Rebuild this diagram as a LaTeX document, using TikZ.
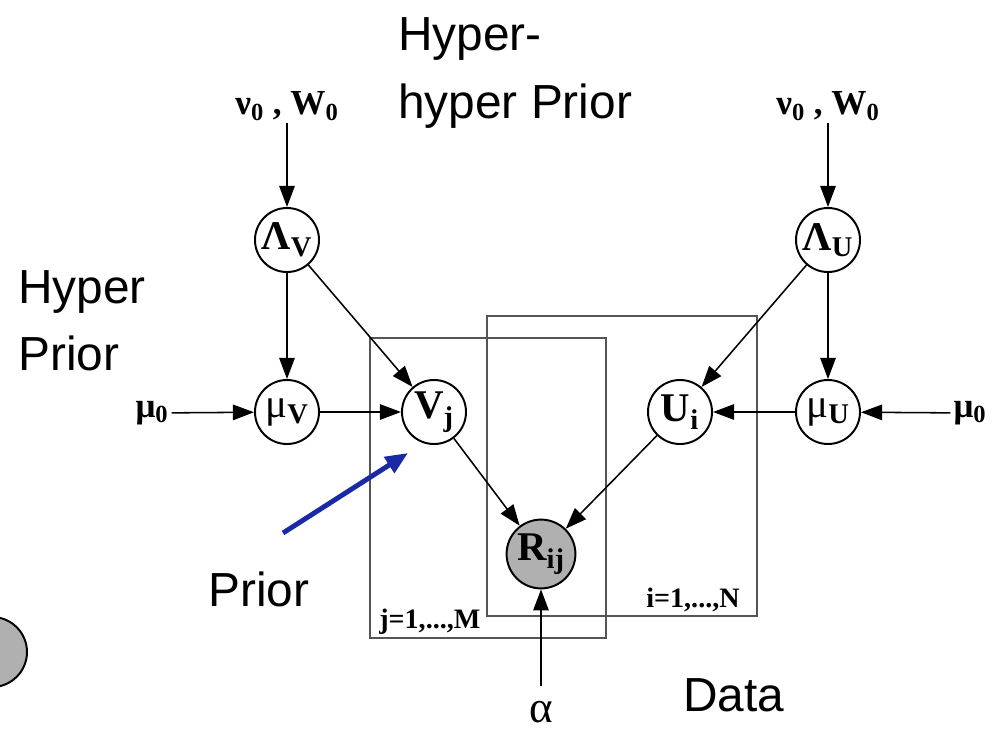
\documentclass[tikz,border=0pt]{standalone}
\usepackage{fontspec}
\setmainfont{Liberation Serif}
\setsansfont{Liberation Sans}
\usepackage{xcolor}
\usepackage{tikz}
\usetikzlibrary{arrows.meta,positioning}
\definecolor{obsc}{HTML}{B0B0B0}
\definecolor{platec}{HTML}{555555}
\definecolor{bluec}{HTML}{1A2AA6}
\tikzset{
  ar/.style={-{Triangle[length=15pt,width=11pt]},line width=1.1pt,black},
  var/.style={circle,draw,line width=1.4pt,minimum size=1.6cm,inner sep=0pt,font=\fontsize{29}{32}\selectfont\bfseries},
  obs/.style={var,fill=obsc,minimum size=1.72cm},
  hyp/.style={inner sep=2pt,font=\fontsize{25}{28}\selectfont\bfseries},
  plate/.style={draw=platec,line width=0.8pt},
  platelbl/.style={font=\fontsize{20}{22}\selectfont\bfseries,anchor=base west,inner sep=0pt},
  big/.style={font=\sffamily\fontsize{34}{47}\selectfont,anchor=base west,inner sep=0pt}
}

\begin{document}
\begin{tikzpicture}[x=0.025cm,y=-0.025cm]
\useasboundingbox (0,0) rectangle (1004,730);
% plates
\draw[plate] (370,338) rectangle (606,638);
\draw[plate] (487,316) rectangle (757,616);
\node[platelbl] (jlbl) at (379,628) {j=1,...,M};
\node[platelbl] (ilbl) at (646,607) {i=1,...,N};
% left side
\node[var] (LV) at (287,240) {Λ\textsubscript{V}};
\node[var] (muV) at (287,412) {\textmd{μ}\textsubscript{V}};
\node[var] (Vj) at (434,412) {V\textsubscript{j}};
\node[hyp] (nwV) at (287,106) {ν\textsubscript{0} , W\textsubscript{0}};
\node[hyp] (muL) at (152,413) {μ\textsubscript{0}};
% right side
\node[var] (LU) at (828,240) {Λ\textsubscript{U}};
\node[var] (muU) at (828,412) {\textmd{μ}\textsubscript{U}};
\node[var] (Ui) at (680,412) {U\textsubscript{i}};
\node[hyp] (nwU) at (828,106) {ν\textsubscript{0} , W\textsubscript{0}};
\node[hyp] (muR) at (970,413) {μ\textsubscript{0}};
% data
\node[obs] (Rij) at (541,554) {R\textsubscript{ij}};
\node[inner sep=0pt,anchor=base,font=\fontsize{32}{34}\selectfont] (al) at (541,722) {α};
% edges
\draw[ar] (nwV) -- (LV);
\draw[ar] (nwU) -- (LU);
\draw[ar] (LV) -- (muV);
\draw[ar] (LV) -- (Vj);
\draw[ar] (muL) -- (muV);
\draw[ar] (muV) -- (Vj);
\draw[ar] (LU) -- (muU);
\draw[ar] (LU) -- (Ui);
\draw[ar] (muR) -- (muU);
\draw[ar] (muU) -- (Ui);
\draw[ar] (Vj) -- (Rij);
\draw[ar] (Ui) -- (Rij);
\draw[ar,shorten <=10pt] (al) -- (Rij);
% annotations
\coordinate (pt) at (283,533);
\coordinate (ph) at (408,453);
\draw[-{Triangle[length=16pt,width=13pt]},line width=3.5pt,bluec] (pt) -- (ph);
\node[big] (hh1) at (398,50) {Hyper-};
\node[big] (hh2) at (398,118) {hyper Prior};
\node[big] (hp1) at (18,303) {Hyper};
\node[big] (hp2) at (18,370) {Prior};
\node[big] (pr) at (208,606) {Prior};
\node[big] (da) at (683,711) {Data};
\begin{scope}
\clip (0,0) rectangle (1004,730);
\draw[fill=obsc,line width=1.4pt] (-8,652) circle (35);
\end{scope}
\end{tikzpicture}
\end{document}
